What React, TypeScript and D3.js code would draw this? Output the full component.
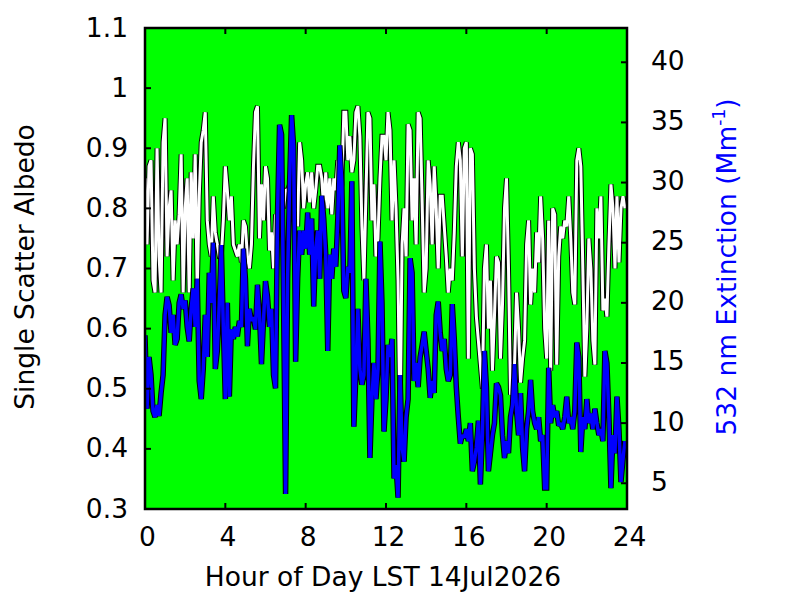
import React from "react";
import * as d3 from "d3";

const START_HOUR = 0;
const STEP_HOURS = 0.1;

const albedo = [
  0.85,0.74,0.87,0.88,0.68,0.66,0.90,0.72,0.66,0.91, 0.95,0.72,0.80,0.83,0.68,0.78,0.74,0.79,0.89,0.66,
  0.80,0.85,0.66,0.86,0.75,0.89,0.66,0.82,0.91,0.93, 0.96,0.78,0.74,0.72,0.82,0.76,0.74,0.72,0.72,0.78,
  0.87,0.83,0.78,0.82,0.74,0.73,0.72,0.74,0.71,0.78, 0.77,0.72,0.70,0.74,0.87,0.96,0.97,0.75,0.84,0.78,
  0.87,0.85,0.73,0.76,0.70,0.79,0.78,0.82,0.84,0.80, 0.83,0.83,0.84,0.82,0.78,0.80,0.77,0.91,0.88,0.80,
  0.84,0.86,0.81,0.86,0.80,0.83,0.87,0.87,0.85,0.80, 0.86,0.80,0.85,0.79,0.85,0.83,0.88,0.80,0.84,0.96,
  0.96,0.88,0.92,0.86,0.88,0.96,0.97,0.92,0.77,0.68, 0.82,0.96,0.95,0.78,0.84,0.72,0.75,0.85,0.92,0.92,
  0.88,0.96,0.93,0.78,0.88,0.80,0.68,0.43,0.74,0.80, 0.72,0.94,0.93,0.78,0.85,0.74,0.96,0.95,0.81,0.66,
  0.70,0.88,0.84,0.74,0.87,0.80,0.70,0.82,0.82,0.77, 0.72,0.66,0.70,0.68,0.76,0.87,0.91,0.88,0.72,0.90,
  0.91,0.55,0.90,0.89,0.70,0.62,0.58,0.54,0.50,0.70, 0.74,0.60,0.68,0.53,0.62,0.72,0.71,0.55,0.64,0.80,
  0.85,0.70,0.49,0.50,0.54,0.66,0.60,0.51,0.55,0.58, 0.74,0.78,0.64,0.70,0.66,0.76,0.71,0.82,0.75,0.60,
  0.55,0.78,0.53,0.80,0.79,0.54,0.72,0.77,0.75,0.78, 0.77,0.82,0.75,0.66,0.64,0.88,0.90,0.87,0.70,0.52,
  0.60,0.75,0.70,0.58,0.54,0.80,0.75,0.82,0.63,0.65, 0.62,0.74,0.84,0.80,0.70,0.82,0.71,0.80,0.82,0.80,
];

const extinction = [
  17.3,11.2,15.5,14.0,11.0,10.5,11.5,10.6,12.5,14.0, 19.0,20.5,19.8,17.5,19.0,16.5,17.0,20.0,20.7,19.5,
  20.2,18.0,16.8,19.5,21.2,18.0,22.0,13.5,12.0,14.5, 19.0,15.5,22.5,20.0,25.0,14.5,16.0,20.0,24.8,18.0,
  12.0,20.0,12.2,17.8,17.0,18.0,17.2,18.5,18.0,24.5, 22.0,16.4,19.5,18.5,18.8,17.8,21.5,19.0,14.9,18.5,
  21.8,20.5,18.0,19.5,14.0,12.9,27.5,34.8,34.0,20.0, 4.1,22.0,30.0,35.6,33.0,15.1,22.0,26.0,24.0,26.0,
  24.5,27.5,24.0,27.0,19.7,24.5,26.0,22.0,28.9,27.0, 24.0,16.0,24.0,22.0,24.5,23.0,27.0,33.1,30.0,21.0,
  20.4,23.0,22.5,30.1,9.7,14.0,19.5,14.5,13.2,14.0, 22.0,17.0,7.1,12.0,15.0,12.0,14.5,25.1,20.0,9.3,
  12.0,16.5,15.5,17.0,5.4,6.5,3.8,14.0,8.0,6.8, 10.5,12.0,23.7,22.5,13.5,15.0,13.0,15.5,16.5,17.6,
  16.0,14.5,12.1,13.5,12.5,19.0,20.1,17.5,16.0,17.0, 14.5,13.5,14.0,19.9,17.0,13.0,10.5,8.3,9.0,8.8,
  9.5,8.5,10.0,6.0,6.8,8.0,10.2,4.9,9.0,16.0, 13.0,6.0,7.5,9.0,10.0,13.3,13.0,12.3,9.0,7.1,
  8.5,7.5,10.5,11.5,14.9,11.0,9.0,12.5,8.0,6.0, 9.5,11.0,13.6,11.0,10.0,9.5,10.5,8.5,9.0,4.6,
  4.6,14.6,10.0,11.5,10.5,11.0,9.8,10.0,9.5,10.5, 12.2,10.0,10.5,9.5,11.0,16.7,15.5,7.6,10.5,9.5,
  12.0,10.0,10.8,9.5,11.2,10.0,9.0,9.5,8.5,16.0, 15.0,10.5,4.6,9.0,7.5,12.2,9.5,5.1,7.0,8.5,
];

const xTicks = [0, 4, 8, 12, 16, 20, 24];
const leftTicks = [0.3, 0.4, 0.5, 0.6, 0.7, 0.8, 0.9, 1, 1.1];
const rightTicks = [5, 10, 15, 20, 25, 30, 35, 40];

const X_DOMAIN = [0, 24];
const LEFT_DOMAIN = [0.3, 1.1];
const RIGHT_DOMAIN = [2.86, 42.85];

const TITLE_X = "Hour of Day LST 14Jul2026";
const TITLE_LEFT = "Single Scatter Albedo";
const TITLE_RIGHT = "532 nm Extinction (Mm";

const FONT = "'DejaVu Sans', sans-serif";

export default function App() {
  const L = 145, R = 627, T = 28, B = 509;
  const x = d3.scaleLinear().domain(X_DOMAIN).range([L, R]);
  const yL = d3.scaleLinear().domain(LEFT_DOMAIN).range([B, T]);
  const yR = d3.scaleLinear().domain(RIGHT_DOMAIN).range([B, T]);

  const hourAt = (i: number) => START_HOUR + i * STEP_HOURS;
  const albLine = d3.line<number>().x((_, i) => x(hourAt(i))).y((v) => yL(v));
  const extLine = d3.line<number>().x((_, i) => x(hourAt(i))).y((v) => yR(v));

  const tickLen = 6;

  return (
    <svg
      width={800}
      height={600}
      style={{ position: "absolute", left: 0, top: 0, background: "#fff" }}
      fontFamily={FONT}
    >
      <defs>
        <clipPath id="plotClip">
          <rect x={L} y={T} width={R - L} height={B - T} />
        </clipPath>
      </defs>
      <rect x={L} y={T} width={R - L} height={B - T} fill="#00ff00" />
      <g clipPath="url(#plotClip)" fill="none" strokeLinejoin="miter" strokeMiterlimit={2}>
        <path d={albLine(albedo) || ""} stroke="#000" strokeWidth={5} />
        <path d={albLine(albedo) || ""} stroke="#fff" strokeWidth={3} />
        <path d={extLine(extinction) || ""} stroke="#000" strokeWidth={5.5} />
        <path d={extLine(extinction) || ""} stroke="#0000ff" strokeWidth={3.5} />
      </g>
      {/* ticks */}
      <g stroke="#000" strokeWidth={2}>
        {xTicks.map((t) => (
          <g key={"xt" + t}>
            <line x1={x(t)} x2={x(t)} y1={B} y2={B - tickLen} />
            <line x1={x(t)} x2={x(t)} y1={T} y2={T + tickLen} />
          </g>
        ))}
        {leftTicks.map((t) => (
          <line key={"lt" + t} x1={L} x2={L + tickLen} y1={yL(t)} y2={yL(t)} />
        ))}
        {rightTicks.map((t) => (
          <line key={"rt" + t} x1={R} x2={R - tickLen} y1={yR(t)} y2={yR(t)} />
        ))}
      </g>
      <rect x={L} y={T} width={R - L} height={B - T} fill="none" stroke="#000" strokeWidth={2.5} />
      {/* tick labels */}
      <g fontSize={26.5} fill="#000">
        {xTicks.map((t) => (
          <text key={"xl" + t} x={x(t) + 2.5} y={546} textAnchor="middle">
            {String(t)}
          </text>
        ))}
        {leftTicks.map((t) => (
          <text key={"ll" + t} x={128} y={yL(t) + 8.5} textAnchor="end">
            {String(t)}
          </text>
        ))}
        {rightTicks.map((t) => (
          <text key={"rl" + t} x={651} y={yR(t) + 7.5} textAnchor="start">
            {String(t)}
          </text>
        ))}
      </g>
      {/* titles */}
      <text x={383} y={586} fontSize={26.5} textAnchor="middle" fill="#000">
        {TITLE_X}
      </text>
      <text
        transform="translate(34,267) rotate(-90)"
        fontSize={26.5}
        textAnchor="middle"
        fill="#000"
      >
        {TITLE_LEFT}
      </text>
      <text
        transform="translate(736,267) rotate(-90)"
        fontSize={26.5}
        textAnchor="middle"
        fill="#0000ff"
      >
        {TITLE_RIGHT}
        <tspan fontSize={17} dy={-11}>-1</tspan>
        <tspan dy={11}>)</tspan>
      </text>
    </svg>
  );
}
